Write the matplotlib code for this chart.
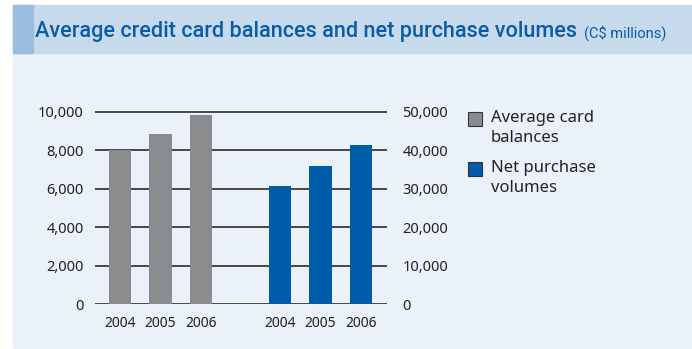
import matplotlib
matplotlib.use('Agg')
import matplotlib.pyplot as plt
import matplotlib.patches as patches

# data
years = ['2004', '2005', '2006']
card_balances = [8000, 8870, 9840]
purchase_volumes = [30700, 35900, 41400]
left_ticks = [0, 2000, 4000, 6000, 8000, 10000]
right_ticks = [0, 10000, 20000, 30000, 40000, 50000]
legend_labels = ['Average card\nbalances', 'Net purchase\nvolumes']

W, H = 692, 349
fig = plt.figure(figsize=(W / 100, H / 100), dpi=100)
fig.patch.set_facecolor('white')

def px_rect(x0, y0, x1, y1, color):
    # rectangle in image pixel coords (y from top)
    fig.patches.append(patches.Rectangle((x0 / W, 1 - y1 / H), (x1 - x0) / W, (y1 - y0) / H,
                                         transform=fig.transFigure, color=color, zorder=-10))

px_rect(13, 53, W, H - 1, '#eaf1f8')
px_rect(13, 4.5, W, 53, '#c6daec')
px_rect(13, 4.5, 33, 53, '#9bbee0')

title_font = ['Roboto', 'DejaVu Sans']
fig.text(35 / W, 1 - 32 / H, 'Average credit card balances and net purchase volumes',
         family=title_font, weight='medium', fontsize=15.6, color='#0b5ca8',
         va='center', ha='left')
fig.text(584 / W, 1 - 33 / H, '(C$ millions)', family=title_font,
         fontsize=10.5, color='#0b5ca8', va='center', ha='left')

# axes placement (pixels)
x0_px, x1_px = 95, 387
zero_px, top_px = 304, 104.3
ax = fig.add_axes([x0_px / W, 1 - zero_px / H, (x1_px - x0_px) / W, (zero_px - top_px) / H])
ax.patch.set_alpha(0)
ax2 = ax.twinx()

pos_left = [0, 1, 2]
pos_right = [3.95, 4.95, 5.95]
bw = 0.55

ax.bar(pos_left, card_balances, width=bw, color='#8a8b8d', zorder=3)
ax2.bar(pos_right, purchase_volumes, width=bw, color='#005ca9', zorder=3)

for t in left_ticks:
    ax.axhline(t, color='#3a3a3a', lw=1.3, zorder=1)

ax.set_xlim(-0.62, 6.59)
ax.set_ylim(0, 10400)
ax2.set_ylim(0, 52000)

font = ['Noto Sans', 'DejaVu Sans']
ax.set_yticks(left_ticks)
ax.set_yticklabels([f'{v:,}' for v in left_ticks], family=font, fontsize=10.5, color='#222222')
ax2.set_yticks(right_ticks)
ax2.set_yticklabels([f'{v:,}' for v in right_ticks], family=font, fontsize=10.5, color='#222222')
ax.set_xticks(pos_left + pos_right)
ax.set_xticklabels(years + years, family=font, fontsize=10, color='#222222')

ax.tick_params(axis='y', length=0, pad=8)
ax2.tick_params(axis='y', length=0, pad=11)
ax.tick_params(axis='x', length=0, pad=8.5)
for a in (ax, ax2):
    for s in a.spines.values():
        s.set_visible(False)

# legend
leg_colors = ['#8a8b8d', '#005ca9']
leg_y = [112, 162]
for lab, col, y in zip(legend_labels, leg_colors, leg_y):
    fig.patches.append(patches.Rectangle((468 / W, 1 - (y + 14) / H), 14 / W, 14 / H,
                                         transform=fig.transFigure, facecolor=col,
                                         edgecolor='#333333', lw=0.8, zorder=2))
    fig.text(491 / W, 1 - (y - 2) / H, lab, family=font, fontsize=12, color='#222222',
             va='top', ha='left', linespacing=1.3)

fig.savefig('out.png', dpi=100, facecolor=fig.get_facecolor())
